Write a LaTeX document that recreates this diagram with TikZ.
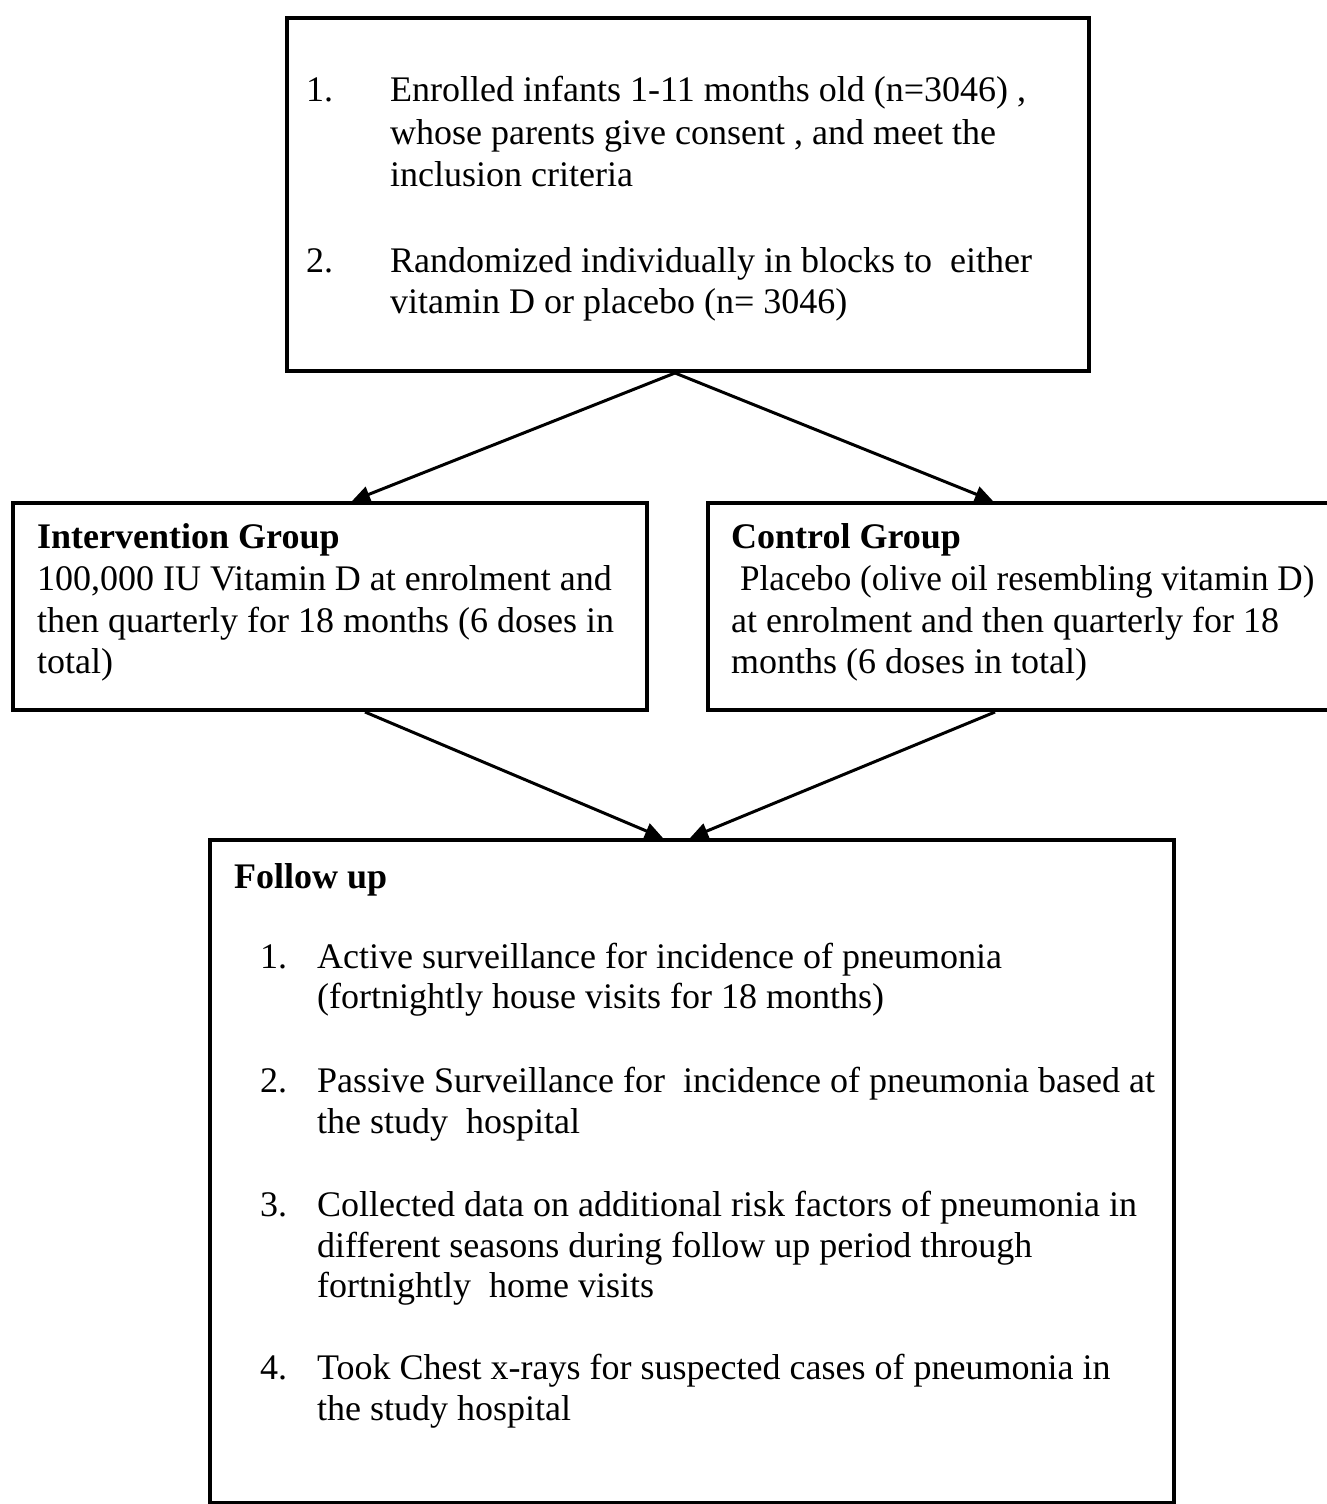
\documentclass[tikz,border=0pt]{standalone}
\usepackage{fontspec}
\setmainfont{Liberation Serif}
\usetikzlibrary{arrows.meta,calc}
\tikzset{
  box/.style={draw=black, line width=4pt, inner sep=0pt, anchor=north west, fill=none},
  ln/.style={anchor=base west, inner sep=0pt, font=\fontsize{36}{41}\selectfont},
  bln/.style={ln, font=\fontsize{36}{41}\selectfont\bfseries},
  arr/.style={line width=3pt, -{Triangle[length=18pt,width=16pt]}}
}
\begin{document}
\begin{tikzpicture}[x=1pt,y=-1pt]
\useasboundingbox (0,0) rectangle (1327,1504);
\fill[white] (0,0) rectangle (1327,1504);
% boxes
\node[box, minimum width=802pt, minimum height=353pt] (top) at (285,16) {};
\node[box, minimum width=634pt, minimum height=207pt] (int) at (11,501) {};
\node[box, minimum width=630pt, minimum height=207pt] (ctl) at (706,501) {};
\node[box, minimum width=964pt, minimum height=663pt] (fol) at (208,838) {};
% top box text
\node[ln] (t1n) at (306,101) {1.};
\node[ln] (t1a) at (390,101) {Enrolled infants 1-11 months old (n=3046) ,};
\node[ln] (t1b) at (390,144) {whose parents give consent , and meet the};
\node[ln] (t1c) at (390,186) {inclusion criteria};
\node[ln] (t2n) at (306,272) {2.};
\node[ln] (t2a) at (390,272) {Randomized individually in blocks to\ \ either};
\node[ln] (t2b) at (390,313) {vitamin D or placebo (n= 3046)};
% intervention
\node[bln] (i0) at (37,548) {Intervention Group};
\node[ln] (i1) at (37,590) {100,000 IU Vitamin D at enrolment and};
\node[ln] (i2) at (37,632) {then quarterly for 18 months (6 doses in};
\node[ln] (i3) at (37,673) {total)};
% control
\node[bln] (c0) at (731,548) {Control Group};
\node[ln] (c1) at (740,590) {\scalebox{0.975}[1]{Placebo (olive oil resembling vitamin D)}};
\node[ln] (c2) at (731,632) {at enrolment and then quarterly for 18};
\node[ln] (c3) at (731,673) {months (6 doses in total)};
% follow up
\node[bln] (f0) at (234,888) {Follow up};
\node[ln] (f1n) at (260,968) {1.};
\node[ln] (f1a) at (317,968) {Active surveillance for incidence of pneumonia};
\node[ln] (f1b) at (317,1008) {(fortnightly house visits for 18 months)};
\node[ln] (f2n) at (260,1092) {2.};
\node[ln] (f2a) at (317,1092) {Passive Surveillance for\ \ incidence of pneumonia based at};
\node[ln] (f2b) at (317,1133) {the study\ \ hospital};
\node[ln] (f3n) at (260,1216) {3.};
\node[ln] (f3a) at (317,1216) {Collected data on additional risk factors of pneumonia in};
\node[ln] (f3b) at (317,1257) {different seasons during follow up period through};
\node[ln] (f3c) at (317,1297) {fortnightly\ \ home visits};
\node[ln] (f4n) at (260,1379) {4.};
\node[ln] (f4a) at (317,1379) {Took Chest x-rays for suspected cases of pneumonia in};
\node[ln] (f4b) at (317,1420) {the study hospital};
% connectors
\draw[arr] ($(top.south west)+(390,0)$) -- ($(int.north west)+(341,0)$);
\draw[arr] ($(top.south west)+(390,0)$) -- ($(ctl.north west)+(287,0)$);
\draw[arr] ($(int.south west)+(354,0)$) -- ($(fol.north west)+(455,0)$);
\draw[arr] ($(ctl.south west)+(289,0)$) -- ($(fol.north west)+(482,0)$);
\end{tikzpicture}
\end{document}
